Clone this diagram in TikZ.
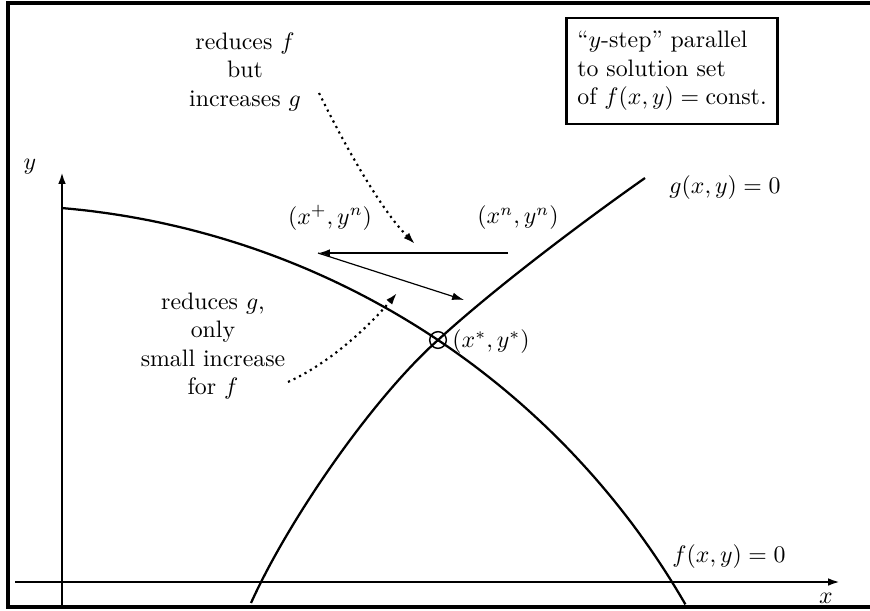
\documentclass[tikz,border=0pt]{standalone}
\usetikzlibrary{arrows.meta}
\begin{document}
\begin{tikzpicture}[x=0.42pt,y=-0.42pt,
  frame/.style={line width=1.4pt},
  axis/.style={line width=0.95pt,-{Latex[length=5pt,width=3.2pt]}},
  curve/.style={line width=0.95pt},
  bigarrow/.style={line width=0.95pt,-{Latex[length=5pt,width=3.2pt]}},
  thinarrow/.style={line width=0.5pt,-{Latex[length=5pt,width=3.2pt]}},
  dotarrow/.style={line width=0.9pt,dash pattern=on 0.9pt off 1.7pt,-{Latex[length=5pt,width=3.2pt]}},
  lbl/.style={inner sep=0pt,align=center},
  note/.style={draw,line width=1.1pt,align=left,inner xsep=4.5pt,inner ysep=5.5pt}]
\useasboundingbox (0,0) rectangle (870,610);
\draw[frame] (876,3) -- (8,3) -- (8,607) -- (876,607);
% axes
\coordinate (xs) at (15,582);
\coordinate (xe) at (840,582);
\coordinate (ys) at (62,605);
\coordinate (ye) at (62,172);
\draw[axis] (xs) -- (xe);
\draw[axis] (ys) -- (ye);
\node[lbl] (xl) at (826,598) {$x$};
\node[lbl] (yl) at (30,167) {$y$};
% f curve (circular arc)
\draw[curve] plot[domain=85.1:30,samples=80,variable=\t] ({-6.1+798.5*cos(\t)},{1003.6-798.5*sin(\t)});
% g curve
\coordinate (g0) at (251,603);
\coordinate (gm) at (438,340);
\coordinate (g1) at (645,178);
\draw[curve] (g0) .. controls (288,521) and (371,400) .. (gm)
  .. controls (497,286) and (588,218) .. (g1);
% intersection
\node[draw,circle,line width=0.6pt,minimum size=7pt,inner sep=0pt] (star) at (gm) {};
\node[lbl,anchor=west] (starl) at (452,342) {$(x^*,y^*)$};
% labels
\node[lbl] (gl) at (725,188) {$g(x,y)=0$};
\node[lbl] (fl) at (729,557) {$f(x,y)=0$};
\node[lbl] (xp) at (330,218) {$(x^+,y^n)$};
\node[lbl] (xn) at (518,218) {$(x^n,y^n)$};
% step arrows
\coordinate (a) at (508,253);
\coordinate (b) at (318,253);
\coordinate (c) at (464,300);
\draw[bigarrow] (a) -- (b);
\draw[thinarrow] (b) -- (c);
% texts
\node[lbl] (t1) at (245,72) {reduces $f$\\but\\increases $g$};
\node[lbl] (t2) at (213,346) {reduces $g$,\\only\\small increase\\for $f$};
\node[note] (box) at (672,71) {``$y$-step'' parallel\\to solution set\\of $f(x,y)=\mathrm{const.}$};
% dotted arrows
\coordinate (d1s) at (319,93);
\coordinate (d1e) at (415,244);
\draw[dotarrow] (d1s) .. controls (342,140) and (380,209) .. (d1e);
\coordinate (d2s) at (288,382);
\coordinate (d2e) at (397,293);
\draw[dotarrow] (d2s) .. controls (332,362) and (371,324) .. (d2e);
\end{tikzpicture}
\end{document}
